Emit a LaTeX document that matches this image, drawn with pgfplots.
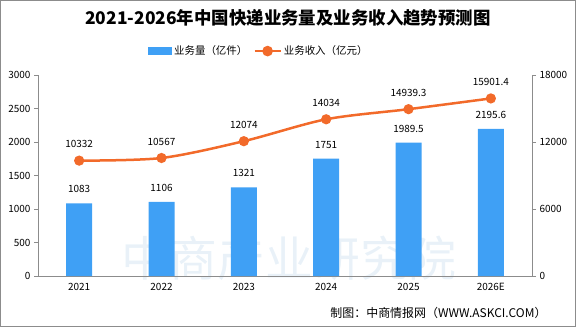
\documentclass[border=0pt]{standalone}
\usepackage{pgfplots}
\pgfplotsset{compat=1.18}
\usepackage{fontspec}
\setmainfont{Noto Sans CJK SC}
\definecolor{barblue}{HTML}{3FA0F5}
\definecolor{lineorange}{HTML}{F26A2A}
\definecolor{axgray}{HTML}{8C8C8C}
\definecolor{wmblue}{HTML}{B5D2E8}
\begin{document}
\begin{tikzpicture}[x=1bp,y=1bp]
\path[draw=axgray, line width=1bp] (0.5,0.5) rectangle (575.5,326.5);
\node[font=\fontsize{48}{50}\selectfont, text=wmblue, opacity=0.3] at (289,69) {中商产业研究院};
\begin{axis}[
  at={(38bp,51bp)}, anchor=south west, scale only axis,
  width=494bp, height=201bp,
  xmin=-0.5, xmax=5.5, ymin=0, ymax=3000,
  xtick={0,1,2,3,4,5},
  xticklabels={2021,2022,2023,2024,2025,2026E},
  ytick={0,500,1000,1500,2000,2500,3000},
  axis y line*=left, axis x line*=bottom,
  axis line style={axgray, line width=0.8bp, -},
  tick align=outside,
  major tick length=4bp,
  ytick style={axgray, line width=0.8bp},
  xtick style={draw=none},
  tick label style={font=\fontsize{10}{12}\selectfont},
  /pgf/number format/assume math mode=true,
  /pgf/number format/1000 sep={},
  legend style={draw=none, fill=none, at={(0.447,1.119)}, anchor=center,
     legend columns=2, font=\fontsize{10.5}{12}\selectfont,
     /tikz/every even column/.append style={column sep=4bp}},
  legend cell align=left,
]
\addplot[ybar, bar width=26bp, fill=barblue, draw=none,
  point meta=explicit symbolic, nodes near coords,
  nodes near coords style={font=\fontsize{10}{12}\selectfont, text=black, yshift=7bp},
  area legend,
  legend image code/.code={\fill[barblue] (0bp,-4bp) rectangle (24bp,4bp);}]
  coordinates {(0,1083)[1083] (1,1106)[1106] (2,1321)[1321] (3,1751)[1751] (4,1989.5)[1989.5] (5,2195.6)[2195.6]};
\addlegendentry{业务量（亿件）}
\addlegendimage{lineorange, line width=2.5bp, mark=*, mark size=3.5bp,
  legend image code/.code={\draw[lineorange, line width=2.5bp] (0bp,0bp) -- (26bp,0bp); \fill[lineorange] (13bp,0bp) circle (4bp);}}
\addlegendentry{业务收入（亿元）}
\end{axis}
\begin{axis}[
  at={(38bp,51bp)}, anchor=south west, scale only axis,
  width=494bp, height=201bp,
  xmin=-0.5, xmax=5.5, ymin=0, ymax=18000,
  ytick={0,6000,12000,18000},
  axis y line*=right, axis x line=none,
  axis line style={axgray, line width=0.8bp, -},
  tick align=outside,
  major tick length=4bp,
  ytick style={axgray, line width=0.8bp},
  tick label style={font=\fontsize{10}{12}\selectfont},
  /pgf/number format/assume math mode=true,
  /pgf/number format/1000 sep={},
  scaled y ticks=false,
]
\addplot[lineorange, line width=2.5bp, smooth, mark=*, mark size=3.8bp,
  mark options={fill=lineorange, draw=lineorange},
  point meta=explicit symbolic, nodes near coords,
  nodes near coords style={font=\fontsize{10}{12}\selectfont, text=black, yshift=8bp}]
  coordinates {(0,10332)[10332] (1,10567)[10567] (2,12074)[12074] (3,14034)[14034] (4,14939.3)[14939.3] (5,15901.4)[15901.4]};
\end{axis}
\node[font=\fontsize{17.5}{20}\selectfont\bfseries] at (288,309) {2021-2026年中国快递业务量及业务收入趋势预测图};
\node[font=\fontsize{12}{14}\selectfont, anchor=east] at (550,14) {制图：中商情报网（WWW.ASKCI.COM）};
\end{tikzpicture}
\end{document}
